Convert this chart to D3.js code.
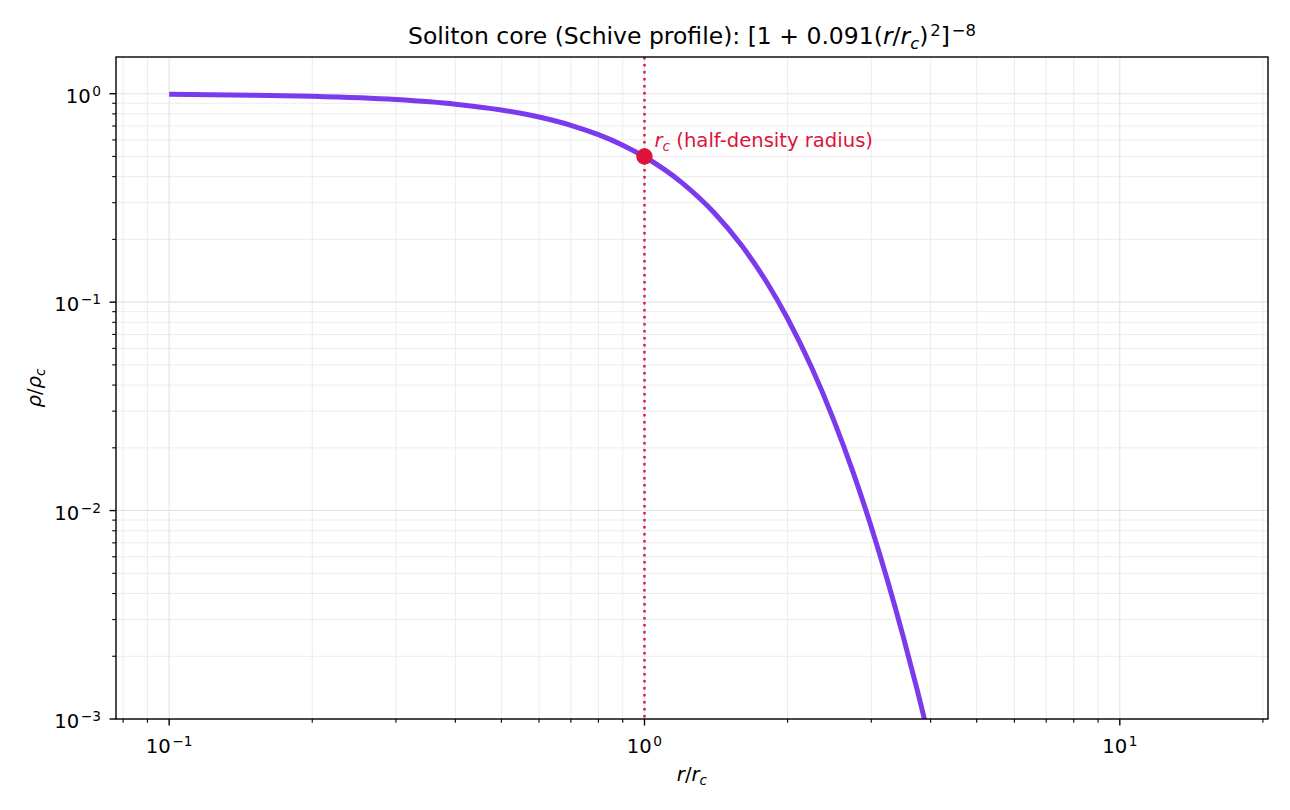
<!DOCTYPE html>
<html>
<head>
<meta charset="utf-8">
<script src="https://cdn.jsdelivr.net/npm/d3@7"></script>
<style>
    body { margin: 0; background: #fff; }
    text { font-family: "DejaVu Sans", sans-serif; fill: #000; }
</style>
</head>
<body>
<svg id="chart" width="1290" height="810"></svg>
<script>
// values (r/r_c and rho/rho_c)
const radius = [0.1, 0.15, 0.2, 0.3, 0.4, 0.5, 0.6, 0.7, 0.8, 0.9, 1.0, 1.2, 1.4, 1.6, 1.8,
    2.0, 2.25, 2.5, 2.75, 3.0, 3.25, 3.5, 3.75, 4.0, 4.5];
const density = [0.9928, 0.9838, 0.9714, 0.9368, 0.8908, 0.8353, 0.7727, 0.7054, 0.6358, 0.5663,
    0.4982, 0.3734, 0.2690, 0.1873, 0.1266, 0.08346, 0.04826, 0.02726, 0.01516, 0.008344,
    0.004571, 0.002500, 0.001371, 0.000756, 0.000234];
const coreRadius = [1.0];
const coreDensity = [0.5];
const xTicks = [0.1, 1, 10];
const xTickExp = ["\u22121", "0", "1"];
const yTicks = [0.001, 0.01, 0.1, 1];
const yTickExp = ["\u22123", "\u22122", "\u22121", "0"];

const LEFT = 116, RIGHT = 1268, TOP = 57, BOTTOM = 719;
const PURPLE = "#7c3aed";
const CRIMSON = "#dc143c";
const FONT = 19.6;

const svg = d3.select("#chart");

const xScale = d3.scaleLog().domain([0.0773, 20.5]).range([LEFT, RIGHT]);
const yScale = d3.scaleLog().domain([0.001, 1.5]).range([BOTTOM, TOP]);

// minor tick positions on log axes
function minorTicks(scale) {
    const [a, b] = scale.domain();
    const out = [];
    for (let e = Math.floor(Math.log10(a)); e <= Math.ceil(Math.log10(b)); e++) {
        for (let m = 2; m <= 9; m++) {
            const v = m * Math.pow(10, e);
            if (v >= a && v <= b) out.push(v);
        }
    }
    return out;
}

// writes matplotlib-like mathtext pieces into a text element
function mathText(sel, parts, size) {
    let shift = 0;
    sel.style("font-size", size + "px");
    parts.forEach(function (p) {
        let target = 0;
        if (p.sub) target = 0.22 * size;
        if (p.sup) target = -0.36 * size;
        sel.append("tspan")
            .attr("dx", p.sup ? 0.08 * size : 0)
            .attr("dy", target - shift)
            .style("font-size", (p.sub || p.sup) ? (size * 0.7) + "px" : size + "px")
            .style("font-style", p.it ? "italic" : "normal")
            .text(p.t);
        shift = target;
    });
}

// grid
const grid = svg.append("g");
minorTicks(xScale).forEach(function (v) {
    grid.append("line").attr("x1", xScale(v)).attr("x2", xScale(v)).attr("y1", TOP).attr("y2", BOTTOM)
        .attr("stroke", "#ececec").attr("stroke-width", 1);
});
minorTicks(yScale).forEach(function (v) {
    grid.append("line").attr("y1", yScale(v)).attr("y2", yScale(v)).attr("x1", LEFT).attr("x2", RIGHT)
        .attr("stroke", "#ececec").attr("stroke-width", 1);
});
xTicks.forEach(function (v) {
    grid.append("line").attr("x1", xScale(v)).attr("x2", xScale(v)).attr("y1", TOP).attr("y2", BOTTOM)
        .attr("stroke", "#e3e3e3").attr("stroke-width", 1.1);
});
yTicks.forEach(function (v) {
    grid.append("line").attr("y1", yScale(v)).attr("y2", yScale(v)).attr("x1", LEFT).attr("x2", RIGHT)
        .attr("stroke", "#e3e3e3").attr("stroke-width", 1.1);
});

// clip to axes
svg.append("clipPath").attr("id", "plot-clip")
    .append("rect").attr("x", LEFT).attr("y", TOP).attr("width", RIGHT - LEFT).attr("height", BOTTOM - TOP);

// r_c marker line
svg.append("line")
    .attr("x1", xScale(coreRadius[0])).attr("x2", xScale(coreRadius[0]))
    .attr("y1", TOP).attr("y2", BOTTOM)
    .attr("stroke", CRIMSON).attr("stroke-width", 2.4)
    .attr("stroke-dasharray", "2.4,4.6");

// profile line
const line = d3.line()
    .x((d, i) => xScale(radius[i]))
    .y(d => yScale(d))
    .curve(d3.curveMonotoneX);

svg.append("path")
    .datum(density)
    .attr("clip-path", "url(#plot-clip)")
    .attr("d", line)
    .attr("fill", "none")
    .attr("stroke", PURPLE)
    .attr("stroke-width", 5)
    .attr("stroke-linecap", "butt")
    .attr("stroke-linejoin", "round");

// core point
svg.selectAll(".core")
    .data(coreRadius)
    .enter()
    .append("circle")
    .attr("cx", d => xScale(d))
    .attr("cy", (d, i) => yScale(coreDensity[i]))
    .attr("r", 8.2)
    .attr("fill", CRIMSON);

const note = svg.append("text")
    .attr("x", xScale(coreRadius[0]) + 10)
    .attr("y", 147)
    .style("fill", CRIMSON);
mathText(note, [{t: "r", it: true}, {t: "c", it: true, sub: true}, {t: " (half-density radius)"}], FONT);
note.selectAll("tspan").style("fill", CRIMSON);

// spines
svg.append("rect")
    .attr("x", LEFT).attr("y", TOP).attr("width", RIGHT - LEFT).attr("height", BOTTOM - TOP)
    .attr("fill", "none").attr("stroke", "#000").attr("stroke-width", 1.4);

// ticks
const ticks = svg.append("g").attr("stroke", "#000");
xTicks.forEach(function (v) {
    ticks.append("line").attr("x1", xScale(v)).attr("x2", xScale(v)).attr("y1", BOTTOM).attr("y2", BOTTOM + 6.5).attr("stroke-width", 1.4);
});
minorTicks(xScale).forEach(function (v) {
    ticks.append("line").attr("x1", xScale(v)).attr("x2", xScale(v)).attr("y1", BOTTOM).attr("y2", BOTTOM + 3.8).attr("stroke-width", 1.1);
});
yTicks.forEach(function (v) {
    ticks.append("line").attr("y1", yScale(v)).attr("y2", yScale(v)).attr("x1", LEFT).attr("x2", LEFT - 6.5).attr("stroke-width", 1.4);
});
minorTicks(yScale).forEach(function (v) {
    ticks.append("line").attr("y1", yScale(v)).attr("y2", yScale(v)).attr("x1", LEFT).attr("x2", LEFT - 3.8).attr("stroke-width", 1.1);
});

// tick labels
xTicks.forEach(function (v, i) {
    const t = svg.append("text")
        .attr("x", xScale(v))
        .attr("y", 753)
        .attr("text-anchor", "middle");
    mathText(t, [{t: "10"}, {t: xTickExp[i], sup: true}], FONT);
});
yTicks.forEach(function (v, i) {
    const t = svg.append("text")
        .attr("x", 101)
        .attr("y", yScale(v) + 9)
        .attr("text-anchor", "end");
    mathText(t, [{t: "10"}, {t: yTickExp[i], sup: true}], FONT);
});

// axis labels
const xl = svg.append("text")
    .attr("x", (LEFT + RIGHT) / 2)
    .attr("y", 781)
    .attr("text-anchor", "middle");
mathText(xl, [{t: "r", it: true}, {t: "/"}, {t: "r", it: true}, {t: "c", it: true, sub: true}], FONT);

const yl = svg.append("text")
    .attr("transform", `translate(41, ${(TOP + BOTTOM) / 2}) rotate(-90)`)
    .attr("text-anchor", "middle");
mathText(yl, [{t: "\u03c1", it: true}, {t: "/"}, {t: "\u03c1", it: true}, {t: "c", it: true, sub: true}], FONT);

// title
const title = svg.append("text")
    .attr("x", (LEFT + RIGHT) / 2)
    .attr("y", 44)
    .attr("text-anchor", "middle");
mathText(title, [
    {t: "Soliton core (Schive profile): [1 + 0.091("},
    {t: "r", it: true}, {t: "/"}, {t: "r", it: true},
    {t: "c", it: true, sub: true}, {t: ")"}, {t: "2", sup: true}, {t: "]"},
    {t: "\u22128", sup: true}
], 23.5);
</script>
</body>
</html>
